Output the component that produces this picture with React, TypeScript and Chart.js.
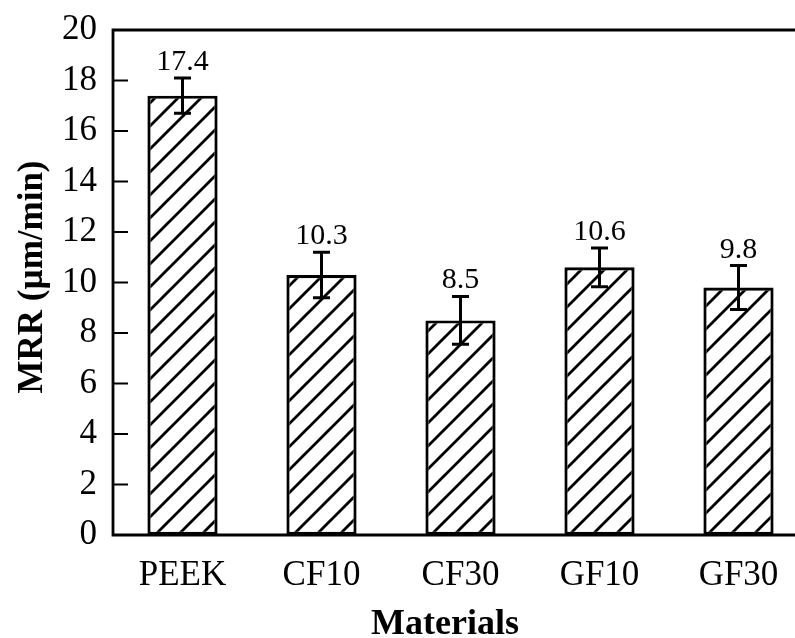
import React, { useEffect, useRef } from "react";
import { Chart, registerables } from "chart.js";

Chart.register(...registerables);

const categories = ["PEEK", "CF10", "CF30", "GF10", "GF30"];
const mrrValues = [17.4, 10.3, 8.5, 10.6, 9.8];
const errValues = [0.7, 0.9, 0.95, 0.77, 0.87];
const yTicks = [0, 2, 4, 6, 8, 10, 12, 14, 16, 18, 20];
const xTitle = "Materials";
const yTitle = "MRR (µm/min)";

const FONT = "'Liberation Serif', 'Times New Roman', serif";

function makeHatch(): CanvasPattern | string {
  const s = 23;
  const c = document.createElement("canvas");
  c.width = s;
  c.height = s;
  const g = c.getContext("2d");
  if (!g) return "#fff";
  g.fillStyle = "#fff";
  g.fillRect(0, 0, s, s);
  g.strokeStyle = "#000";
  g.lineWidth = 2.8;
  g.beginPath();
  g.moveTo(-2, s + 2);
  g.lineTo(s + 2, -2);
  g.moveTo(-2, 2);
  g.lineTo(2, -2);
  g.moveTo(s - 2, s + 2);
  g.lineTo(s + 2, s - 2);
  g.stroke();
  const p = g.createPattern(c, "repeat");
  return p || "#fff";
}

const overlay = {
  id: "overlay",
  afterDatasetsDraw(chart: any) {
    const ctx = chart.ctx;
    const area = chart.chartArea;
    const ys = chart.scales.y;
    const meta = chart.getDatasetMeta(0);
    ctx.save();
    ctx.strokeStyle = "#000";
    ctx.fillStyle = "#000";
    // error bars and value labels
    meta.data.forEach((bar: any, i: number) => {
      const x = bar.x;
      const top = ys.getPixelForValue(mrrValues[i] + errValues[i]);
      const bot = ys.getPixelForValue(mrrValues[i] - errValues[i]);
      ctx.lineWidth = 3;
      ctx.beginPath();
      ctx.moveTo(x, top);
      ctx.lineTo(x, bot);
      ctx.moveTo(x - 8.5, top);
      ctx.lineTo(x + 8.5, top);
      ctx.moveTo(x - 8.5, bot);
      ctx.lineTo(x + 8.5, bot);
      ctx.stroke();
      ctx.font = `30px ${FONT}`;
      ctx.textAlign = "center";
      ctx.textBaseline = "alphabetic";
      ctx.fillText(mrrValues[i].toFixed(1), x, top - 8);
    });
    // axes frame
    ctx.lineWidth = 2.8;
    ctx.lineCap = "square";
    ctx.beginPath();
    ctx.moveTo(area.left, area.top);
    ctx.lineTo(area.left, area.bottom);
    ctx.lineTo(area.right, area.bottom);
    ctx.moveTo(area.left, area.top);
    ctx.lineTo(area.right, area.top);
    ctx.stroke();
    // inward y ticks
    ctx.lineWidth = 2;
    ctx.lineCap = "butt";
    ctx.beginPath();
    yTicks.forEach((v) => {
      const y = ys.getPixelForValue(v);
      ctx.moveTo(area.left, y);
      ctx.lineTo(area.left + 15, y);
    });
    ctx.stroke();
    // axis titles
    ctx.font = `bold 36px ${FONT}`;
    ctx.textAlign = "center";
    ctx.textBaseline = "alphabetic";
    ctx.fillText(xTitle, 445, 634);
    ctx.save();
    ctx.font = `bold 35px ${FONT}`;
    ctx.translate(42, 277);
    ctx.rotate(-Math.PI / 2);
    ctx.fillText(yTitle, 0, 0);
    ctx.restore();
    ctx.restore();
  },
};

export default function App() {
  const ref = useRef<HTMLCanvasElement | null>(null);
  useEffect(() => {
    if (!ref.current) return;
    const hatch = makeHatch();
    const chart = new Chart(ref.current, {
      type: "bar",
      data: {
        labels: categories,
        datasets: [
          {
            data: mrrValues,
            backgroundColor: hatch as any,
            borderColor: "#000",
            borderWidth: 3.2,
            borderSkipped: false,
            barPercentage: 0.505,
            categoryPercentage: 1,
          },
        ],
      },
      options: {
        responsive: false,
        animation: false,
        devicePixelRatio: 1,
        layout: { padding: { top: 30, left: 0, right: 0, bottom: 0 } },
        plugins: {
          legend: { display: false },
          tooltip: { enabled: false },
          title: { display: false },
        },
        scales: {
          x: {
            grid: { display: false, drawTicks: false },
            border: { display: false },
            ticks: {
              color: "#000",
              font: { family: FONT, size: 35 },
              padding: 20,
              maxRotation: 0,
              autoSkip: false,
            },
            afterFit: (scale: any) => {
              scale.height = 103;
              scale.paddingLeft = 0;
              scale.paddingRight = 0;
            },
          },
          y: {
            min: 0,
            max: 20,
            grid: { display: false, drawTicks: false },
            border: { display: false },
            ticks: {
              stepSize: 2,
              color: "#000",
              font: { family: FONT, size: 35 },
              padding: 16,
            },
            afterFit: (scale: any) => {
              scale.width = 113;
              scale.paddingTop = 0;
              scale.paddingBottom = 0;
            },
          },
        },
      },
      plugins: [overlay],
    });
    return () => chart.destroy();
  }, []);
  return (
    <div
      style={{
        position: "fixed",
        left: 0,
        top: 0,
        width: 795,
        height: 638,
        overflow: "hidden",
        background: "#fff",
      }}
    >
      <canvas ref={ref} width={808} height={638} style={{ display: "block" }} />
    </div>
  );
}
